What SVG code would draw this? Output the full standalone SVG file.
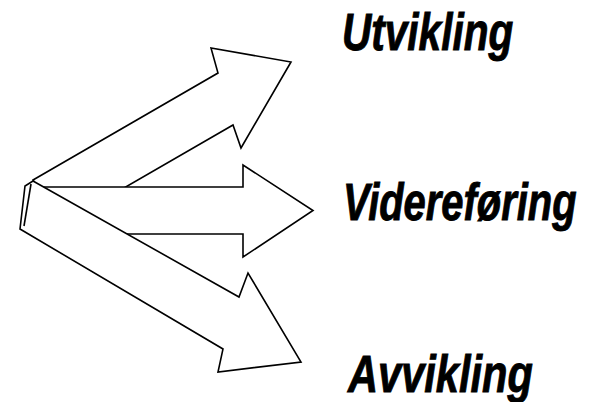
<svg xmlns="http://www.w3.org/2000/svg" width="591" height="402" viewBox="0 0 591 402">
<style>
.arrow{fill:#fff;stroke:#000;stroke-width:1.6;stroke-linejoin:miter}
.lbl{font-family:"Liberation Sans",Arial,sans-serif;font-weight:bold;font-style:italic;font-size:51px;fill:#000;stroke:#000;stroke-width:0.9}
</style>
<rect width="591" height="402" fill="#fff"/>
<g id="connectors">
<g id="arrow-up">
<path class="arrow" d="M33,180 L218,73 L211,48 L291,62 L241,148 L233,125 L60,225 Z"/>
</g>
<g id="arrow-mid">
<path class="arrow" d="M30,187 L243,187 L243,165 L313,210.5 L243,257 L243,234 L30,234 Z"/>
</g>
<g id="arrow-down">
<path class="arrow" d="M33,181 L239,297 L248,273 L301,362 L218,372 L223,349 L20,229 L25,186 Z"/>
<path class="arrow" fill="none" d="M31,184 L24,226"/>
</g>
</g>
<g id="label-utvikling" transform="translate(342,50) scale(0.8,1)">
<text class="lbl" x="0" y="0" textLength="214" lengthAdjust="spacingAndGlyphs">Utvikling</text>
</g>
<g id="label-videreforing" transform="translate(343,220) scale(0.8,1)">
<text class="lbl" x="0" y="0" textLength="292" lengthAdjust="spacingAndGlyphs">Videreføring</text>
</g>
<g id="label-avvikling" transform="translate(348,392) scale(0.8,1)">
<text class="lbl" x="0" y="0" textLength="231" lengthAdjust="spacingAndGlyphs">Avvikling</text>
</g>
</svg>
